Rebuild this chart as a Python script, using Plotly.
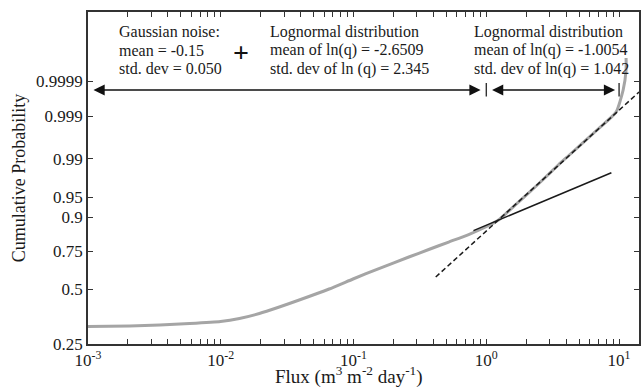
import plotly.graph_objects as go
from statistics import NormalDist

ND = NormalDist()

# ---- data ----
# empirical cumulative distribution (grey curve)
curve_flux = [0.001, 0.002065, 0.00347, 0.005826, 0.009957, 0.01382, 0.01953, 0.0276,
              0.03899, 0.06549, 0.09913, 0.1553, 0.2609, 0.3686, 0.5208, 0.7359, 0.9872,
              1.236, 1.746, 2.466, 3.485, 4.143, 6.957, 9.495, 10.72, 11.29, 11.29]
curve_prob = [0.251, 0.2541, 0.2599, 0.2687, 0.2806, 0.2990, 0.3307, 0.3738,
              0.4220, 0.5000, 0.5710, 0.6430, 0.7164, 0.7600, 0.7996, 0.8351, 0.8662,
              0.8913, 0.9401, 0.9698, 0.9867, 0.9913, 0.99789, 0.99922, 0.99981, 0.999955, 0.999982]

# lognormal fit, mean ln(q) = -2.6509, sd = 2.345 (solid line)
fit1_flux = [0.8, 8.75]
fit1_prob = [0.852, 0.9812]

# lognormal fit of upper tail, mean ln(q) = -1.0054, sd = 1.042 (dashed line)
fit2_flux = [0.416, 14.13]
fit2_prob = [0.585, 0.999786]

# axis ticks
y_tick_labels = ["0.25", "0.5", "0.75", "0.9", "0.95", "0.99", "0.999", "0.9999"]
y_tick_probs = [0.25, 0.5, 0.75, 0.9, 0.95, 0.99, 0.999, 0.9999]
x_decades = [-3, -2, -1, 0, 1]

# ---- scales ----
def z(ps):
    return [ND.inv_cdf(p) for p in ps]

Y_MIN, Y_MAX = -0.983, 4.953
X_MIN, X_MAX = -3.0, 1.150  # log10 flux

# normal-probability tick positions; as in the original, the "0.25" label sits at the axis bottom
y_tickvals = [Y_MIN] + z(y_tick_probs[1:])

x_tickvals, x_ticktext = [], []
for d in x_decades:
    for m in range(1, 10):
        v = m * 10.0 ** d
        if v <= 10 ** X_MAX:
            x_tickvals.append(v)
            x_ticktext.append(f"10<sup>{d}</sup>" if m == 1 else "")

fig = go.Figure()
fig.add_trace(go.Scatter(x=curve_flux, y=z(curve_prob), mode="lines",
                         line=dict(color="rgb(165,165,165)", width=3, shape="spline", smoothing=0.5),
                         showlegend=False))
fig.add_trace(go.Scatter(x=fit1_flux, y=z(fit1_prob), mode="lines",
                         line=dict(color="#1a1a1a", width=1.5), showlegend=False))
fig.add_trace(go.Scatter(x=fit2_flux, y=z(fit2_prob), mode="lines",
                         line=dict(color="#1a1a1a", width=1.5, dash="5px,3px"), showlegend=False))

FONT = "Liberation Serif, Times New Roman, serif"
TXT = "#1a1a1a"

def ypix(py):
    return (344 - py) / 332.0

def xpix(px):
    return (px - 88) / 553.0

ann = []
def text_line(xp, yp, s):
    ann.append(dict(x=xp, y=yp, xref="paper", yref="paper", text=s, showarrow=False,
                    xanchor="left", yanchor="middle", font=dict(family=FONT, size=16, color=TXT)))

blocks = [
    (117, ["Gaussian noise:", "mean = -0.15", "std. dev = 0.050"]),
    (269, ["Lognormal distribution", "mean of ln(q) = -2.6509", "std. dev of ln (q) = 2.345"]),
    (473, ["Lognormal distribution", "mean of ln(q) = -1.0054", "std. dev of ln(q) = 1.042"]),
]
for xp, lines in blocks:
    for i, s in enumerate(lines):
        text_line(xpix(xp), ypix(32 + 18.3 * i), s)

ann.append(dict(x=xpix(242), y=ypix(52), xref="paper", yref="paper", text="<b>+</b>",
                showarrow=False, xanchor="center", yanchor="middle",
                font=dict(family=FONT, size=28, color="#111")))

# x-axis title (slightly left of centre, as in the original)
ann.append(dict(x=xpix(350), y=ypix(390), xref="paper", yref="paper",
                text="Flux (m<sup>3</sup> m<sup>-2</sup> day<sup>-1</sup>)", showarrow=False,
                xanchor="center", yanchor="bottom", font=dict(family=FONT, size=19, color=TXT)))

ARR_Y = 3.558
# double arrows
for a, b in [(-2.97, -0.043), (0.032, 0.970)]:
    ann.append(dict(x=b, y=ARR_Y, ax=a, ay=ARR_Y, xref="x", yref="y", axref="x", ayref="y",
                    text="", showarrow=True, arrowhead=2, arrowsize=1.6, arrowwidth=1.4,
                    arrowside="end+start", arrowcolor="#111", standoff=0, startstandoff=0))
# separator bars
for xb in [0.0, 1.0]:
    ann.append(dict(x=xb, y=3.683, ax=xb, ay=3.415, xref="x", yref="y", axref="x", ayref="y",
                    text="", showarrow=True, arrowhead=0, arrowwidth=1.4, arrowcolor="#333",
                    standoff=0, startstandoff=0))

fig.update_layout(
    width=641, height=391,
    margin=dict(l=88, r=0, t=12, b=47),
    paper_bgcolor="white", plot_bgcolor="white",
    font=dict(family=FONT, color=TXT),
    annotations=ann,
    xaxis=dict(type="log", range=[X_MIN, X_MAX], tickvals=x_tickvals, ticktext=x_ticktext,
               ticks="inside", ticklen=5, tickwidth=1.2, tickcolor="#333",
               showline=True, linecolor="#333", linewidth=1.6, mirror="ticks",
               showgrid=False, zeroline=False,
               tickfont=dict(family=FONT, size=17, color=TXT)),
    yaxis=dict(range=[Y_MIN, Y_MAX], tickvals=y_tickvals, ticktext=y_tick_labels,
               ticks="inside", ticklen=5, tickwidth=1.2, tickcolor="#333",
               showline=True, linecolor="#333", linewidth=1.6, mirror="ticks",
               showgrid=False, zeroline=False,
               tickfont=dict(family=FONT, size=17, color=TXT),
               title=dict(text="Cumulative Probability",
                          font=dict(family=FONT, size=18, color=TXT), standoff=6)),
)

fig.write_html("out.html")
